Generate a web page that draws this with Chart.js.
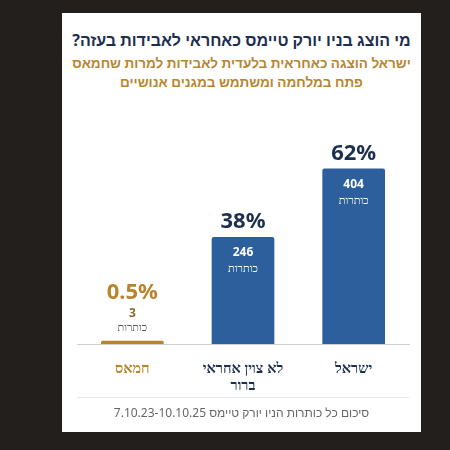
<!DOCTYPE html>
<html><head><meta charset="utf-8">
<script src="https://cdn.jsdelivr.net/npm/chart.js@4"></script>
<style>
body{margin:0;background:#231f1c;width:450px;height:450px;overflow:hidden;font-family:"Noto Sans",sans-serif;}
#card{position:absolute;left:62px;top:13px;width:359px;height:419px;background:#fff;}
.t{position:absolute;left:0;width:359px;text-align:center;direction:rtl;white-space:nowrap;}
#title{top:16px;font-size:16px;font-weight:bold;color:#1d2f4f;}
#sub{top:41px;font-size:13.5px;font-weight:bold;color:#b8852f;line-height:19px;}
#sep{position:absolute;left:15px;width:332px;top:384px;height:1px;background:#e6e6e6;}
#foot{top:391px;font-size:12px;color:#666;}
#wrap{position:absolute;left:0;top:87px;width:359px;height:300px;}
</style></head><body>
<div id="card">
<div class="t" id="title">מי הוצג בניו יורק טיימס כאחראי לאבידות בעזה?</div>
<div class="t" id="sub">ישראל הוצגה כאחראית בלעדית לאבידות למרות שחמאס<br>פתח במלחמה ומשתמש במגנים אנושיים</div>
<div id="wrap"><canvas id="c"></canvas></div>
<div id="sep"></div>
<div class="t" id="foot">סיכום כל כותרות הניו יורק טיימס 7.10.23-10.10.25</div>
</div>
<script>
var categories = [['חמאס'], ['לא צוין אחראי', 'ברור'], ['ישראל']];
var counts = [3, 246, 404];
var percents = ['0.5%', '38%', '62%'];
var barColors = ['#b8852f', '#2d5f9d', '#2d5f9d'];
var labelColors = ['#b8852f', '#1d2f4f', '#1d2f4f'];

var labelsPlugin = {
    id: 'labels',
    afterDatasetsDraw: function(chart) {
        var ctx = chart.ctx;
        var meta = chart.getDatasetMeta(0);
        ctx.save();
        ctx.textAlign = 'center';
        meta.data.forEach(function(bar, i) {
            var x = bar.x, y = bar.y;
            if (i === 0) {
                ctx.fillStyle = '#b8852f';
                ctx.font = 'bold 22px "Noto Sans"';
                ctx.fillText(percents[i], x, y - 42);
                ctx.fillStyle = '#8a6a30';
                ctx.font = 'bold 12px "Noto Sans"';
                ctx.fillText(counts[i], x, y - 24);
                ctx.fillStyle = '#555';
                ctx.font = '11px "Noto Sans"';
                ctx.fillText('כותרות', x, y - 10);
            } else {
                ctx.fillStyle = '#1d2f4f';
                ctx.font = 'bold 22px "Noto Sans"';
                ctx.fillText(percents[i], x, y - 9);
                ctx.fillStyle = '#fff';
                ctx.font = 'bold 12px "Noto Sans"';
                ctx.fillText(counts[i], x, y + 19);
                ctx.font = '11px "Noto Sans"';
                ctx.fillText('כותרות', x, y + 35);
            }
        });
        ctx.restore();
    }
};

new Chart(document.getElementById('c'), {
    type: 'bar',
    data: {
        labels: categories,
        datasets: [{
            data: counts,
            backgroundColor: barColors,
            barThickness: 62,
            minBarLength: 3,
            borderRadius: { topLeft: 2, topRight: 2 },
            borderSkipped: 'bottom'
        }]
    },
    options: {
        responsive: true,
        maintainAspectRatio: false,
        animation: false,
        layout: { padding: { left: 15, right: 12, top: 0 } },
        plugins: { legend: { display: false }, tooltip: { enabled: false } },
        scales: {
            y: { display: false, min: 0, max: 563 },
            x: {
                grid: { display: false, drawTicks: false },
                border: { color: '#cfcfcf', width: 1 },
                afterFit: function(s) { s.height = 56; },
                ticks: {
                    padding: 16,
                    color: labelColors,
                    font: { family: 'Noto Sans', size: 14.5, weight: 'bold', lineHeight: 1.2 }
                }
            }
        }
    },
    plugins: [labelsPlugin]
});
</script>
</body></html>
